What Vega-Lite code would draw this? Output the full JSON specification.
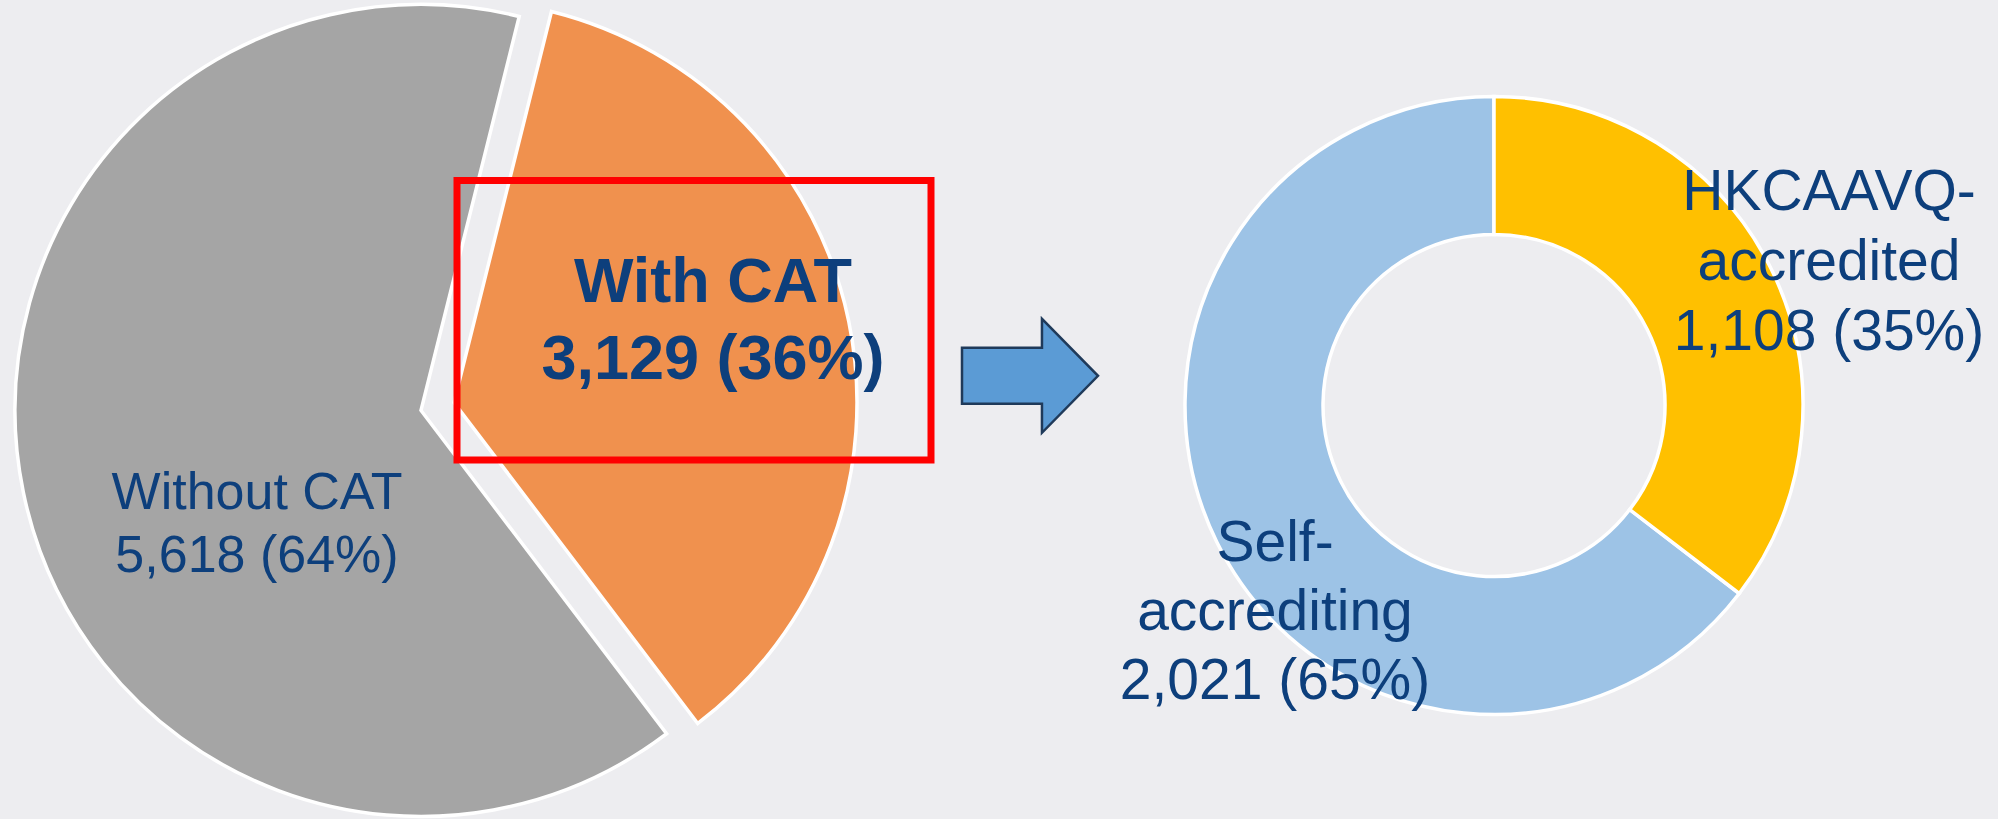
{
  "$schema": "https://vega.github.io/schema/vega-lite/v6.json",
  "width": 1998,
  "height": 819,
  "autosize": {"type": "fit", "contains": "padding"},
  "padding": 0,
  "background": "#EDEDF0",
  "config": {"view": {"stroke": null}},
  "datasets": {
    "pie": [
      {"category": "Without CAT", "value": 5618},
      {"category": "With CAT", "value": 3129}
    ],
    "cat": [
      {"category": "Self-accrediting", "value": 2021},
      {"category": "HKCAAVQ-accredited", "value": 1108}
    ],
    "one": [{"item": "decor"}]
  },
  "resolve": {"scale": {"theta": "independent"}},
  "layer": [
    {
      "data": {"name": "pie"},
      "transform": [
        {"stack": "value", "groupby": [], "sort": [{"field": "value", "order": "ascending"}], "as": ["v0", "v1"], "offset": "normalize"},
        {"filter": "datum.category === 'Without CAT'"}
      ],
      "mark": {"type": "arc", "outerRadius": 406, "innerRadius": 0, "stroke": "#FFFFFF", "strokeWidth": 3.5},
      "encoding": {
        "x": {"datum": 421, "type": "quantitative", "scale": {"domain": [0, 1998], "nice": false, "zero": false}, "axis": null},
        "y": {"datum": 415, "type": "quantitative", "scale": {"domain": [0, 819], "nice": false, "zero": false, "reverse": true}, "axis": null},
        "theta": {"field": "v0", "type": "quantitative", "scale": {"domain": [0, 1], "range": [0.2443, 6.5275]}},
        "theta2": {"field": "v1"},
        "color": {"field": "category", "type": "nominal", "scale": {"domain": ["Without CAT", "With CAT", "Self-accrediting", "HKCAAVQ-accredited"], "range": ["#A5A5A5", "#F0914E", "#9DC3E6", "#FFC000"]}, "legend": null}
      }
    },
    {
      "data": {"name": "pie"},
      "transform": [
        {"stack": "value", "groupby": [], "sort": [{"field": "value", "order": "ascending"}], "as": ["v0", "v1"], "offset": "normalize"},
        {"filter": "datum.category === 'With CAT'"}
      ],
      "mark": {"type": "arc", "outerRadius": 403, "innerRadius": 0, "stroke": "#FFFFFF", "strokeWidth": 3.5},
      "encoding": {
        "x": {"datum": 454, "type": "quantitative", "scale": {"domain": [0, 1998], "nice": false, "zero": false}, "axis": null},
        "y": {"datum": 407, "type": "quantitative", "scale": {"domain": [0, 819], "nice": false, "zero": false, "reverse": true}, "axis": null},
        "theta": {"field": "v0", "type": "quantitative", "scale": {"domain": [0, 1], "range": [0.2443, 6.5275]}},
        "theta2": {"field": "v1"},
        "color": {"field": "category", "type": "nominal", "legend": null}
      }
    },
    {
      "data": {"name": "cat"},
      "transform": [
        {"stack": "value", "groupby": [], "sort": [{"field": "value", "order": "ascending"}], "as": ["v0", "v1"], "offset": "normalize"}
      ],
      "mark": {"type": "arc", "outerRadius": 309, "innerRadius": 171, "stroke": "#FFFFFF", "strokeWidth": 3.5},
      "encoding": {
        "x": {"datum": 1494, "type": "quantitative", "scale": {"domain": [0, 1998], "nice": false, "zero": false}, "axis": null},
        "y": {"datum": 410, "type": "quantitative", "scale": {"domain": [0, 819], "nice": false, "zero": false, "reverse": true}, "axis": null},
        "theta": {"field": "v0", "type": "quantitative", "scale": {"domain": [0, 1], "range": [0, 6.2832]}},
        "theta2": {"field": "v1"},
        "color": {"field": "category", "type": "nominal", "legend": null}
      }
    },
    {
      "data": {"name": "one"},
      "mark": {"type": "rect", "filled": false, "stroke": "#FF0000", "strokeWidth": 7},
      "encoding": {
        "x": {"datum": 457, "type": "quantitative", "scale": {"domain": [0, 1998], "nice": false, "zero": false}, "axis": null},
        "x2": {"datum": 931},
        "y": {"datum": 182.5, "type": "quantitative", "scale": {"domain": [0, 819], "nice": false, "zero": false, "reverse": true}, "axis": null},
        "y2": {"datum": 465}
      }
    },
    {
      "data": {"name": "one"},
      "mark": {"type": "point", "shape": "M-1,-0.412L0.176,-0.412L0.176,-0.838L1,0L0.176,0.838L0.176,0.412L-1,0.412Z", "size": 18496, "filled": true, "fill": "#5B9BD5", "stroke": "#1F3A5A", "strokeWidth": 2.5, "opacity": 1},
      "encoding": {
        "x": {"datum": 1030, "type": "quantitative", "scale": {"domain": [0, 1998], "nice": false, "zero": false}, "axis": null},
        "y": {"datum": 380, "type": "quantitative", "scale": {"domain": [0, 819], "nice": false, "zero": false, "reverse": true}, "axis": null}
      }
    },
    {
      "data": {"name": "pie"},
      "transform": [
        {"stack": "value", "groupby": [], "sort": [{"field": "value", "order": "ascending"}], "as": ["v0", "v1"], "offset": "normalize"},
        {"filter": "datum.category === 'Without CAT'"},
        {"calculate": "replace(datum.category, '-', '-\\n') + '\\n' + format(datum.value, ',') + ' (' + format(datum.v1 - datum.v0, '.0%') + ')'", "as": "label"}
      ],
      "mark": {"type": "text", "align": "center", "baseline": "alphabetic", "lineBreak": "\n", "font": "Liberation Sans", "fontSize": 52, "lineHeight": 63, "color": "#0D3F7C"},
      "encoding": {
        "x": {"datum": 257, "type": "quantitative", "scale": {"domain": [0, 1998], "nice": false, "zero": false}, "axis": null},
        "y": {"datum": 515, "type": "quantitative", "scale": {"domain": [0, 819], "nice": false, "zero": false, "reverse": true}, "axis": null},
        "text": {"field": "label", "type": "nominal"}
      }
    },
    {
      "data": {"name": "pie"},
      "transform": [
        {"stack": "value", "groupby": [], "sort": [{"field": "value", "order": "ascending"}], "as": ["v0", "v1"], "offset": "normalize"},
        {"filter": "datum.category === 'With CAT'"},
        {"calculate": "replace(datum.category, '-', '-\\n') + '\\n' + format(datum.value, ',') + ' (' + format(datum.v1 - datum.v0, '.0%') + ')'", "as": "label"}
      ],
      "mark": {"type": "text", "align": "center", "baseline": "alphabetic", "lineBreak": "\n", "font": "Liberation Sans", "fontSize": 63, "fontWeight": "bold", "lineHeight": 77, "color": "#0D3F7C"},
      "encoding": {
        "x": {"datum": 713, "type": "quantitative", "scale": {"domain": [0, 1998], "nice": false, "zero": false}, "axis": null},
        "y": {"datum": 305, "type": "quantitative", "scale": {"domain": [0, 819], "nice": false, "zero": false, "reverse": true}, "axis": null},
        "text": {"field": "label", "type": "nominal"}
      }
    },
    {
      "data": {"name": "cat"},
      "transform": [
        {"stack": "value", "groupby": [], "sort": [{"field": "value", "order": "ascending"}], "as": ["v0", "v1"], "offset": "normalize"},
        {"filter": "datum.category === 'HKCAAVQ-accredited'"},
        {"calculate": "replace(datum.category, '-', '-\\n') + '\\n' + format(datum.value, ',') + ' (' + format(datum.v1 - datum.v0, '.0%') + ')'", "as": "label"}
      ],
      "mark": {"type": "text", "align": "center", "baseline": "alphabetic", "lineBreak": "\n", "font": "Liberation Sans", "fontSize": 57, "lineHeight": 70, "color": "#0D3F7C"},
      "encoding": {
        "x": {"datum": 1829, "type": "quantitative", "scale": {"domain": [0, 1998], "nice": false, "zero": false}, "axis": null},
        "y": {"datum": 212, "type": "quantitative", "scale": {"domain": [0, 819], "nice": false, "zero": false, "reverse": true}, "axis": null},
        "text": {"field": "label", "type": "nominal"}
      }
    },
    {
      "data": {"name": "cat"},
      "transform": [
        {"stack": "value", "groupby": [], "sort": [{"field": "value", "order": "ascending"}], "as": ["v0", "v1"], "offset": "normalize"},
        {"filter": "datum.category === 'Self-accrediting'"},
        {"calculate": "replace(datum.category, '-', '-\\n') + '\\n' + format(datum.value, ',') + ' (' + format(datum.v1 - datum.v0, '.0%') + ')'", "as": "label"}
      ],
      "mark": {"type": "text", "align": "center", "baseline": "alphabetic", "lineBreak": "\n", "font": "Liberation Sans", "fontSize": 57, "lineHeight": 69, "color": "#0D3F7C"},
      "encoding": {
        "x": {"datum": 1275, "type": "quantitative", "scale": {"domain": [0, 1998], "nice": false, "zero": false}, "axis": null},
        "y": {"datum": 567, "type": "quantitative", "scale": {"domain": [0, 819], "nice": false, "zero": false, "reverse": true}, "axis": null},
        "text": {"field": "label", "type": "nominal"}
      }
    }
  ]
}
